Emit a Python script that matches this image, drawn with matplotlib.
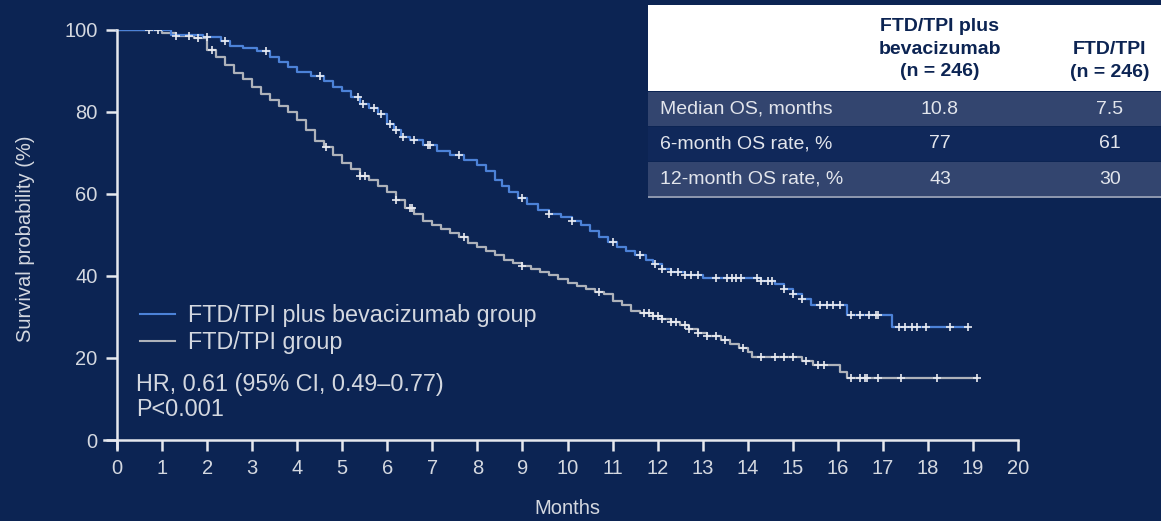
import matplotlib

matplotlib.use("Agg")
import matplotlib.pyplot as plt
import numpy as np
from matplotlib.lines import Line2D
from matplotlib.patches import Rectangle

plt.rcParams["font.family"] = ["Liberation Sans", "DejaVu Sans"]

# Kaplan-Meier step knots (months, survival %)
bev_time = [0.0, 1.2, 1.9, 2.3, 2.5, 2.8, 3.1, 3.4, 3.6, 3.8, 4.0, 4.3, 4.6, 4.8, 5.0, 5.2, 5.4,
            5.6, 5.8, 6.0, 6.15, 6.3, 6.5, 6.8, 7.1, 7.4, 7.7, 8.0, 8.2, 8.4, 8.55, 8.7, 8.9, 9.1,
            9.35, 9.6, 9.85, 10.1, 10.3, 10.5, 10.7, 10.9, 11.1, 11.3, 11.5, 11.75, 11.9, 12.1,
            12.3, 12.6, 13.0, 14.3, 14.6, 14.8, 15.0, 15.2, 15.4, 16.2, 17.2, 18.9]
bev_surv = [100, 98.8, 98.2, 97.2, 96, 95.5, 94.8, 93.5, 92.3, 91, 89.8, 88.8, 87.5, 86, 85, 83.6,
            82, 81, 79.5, 77, 75.5, 74, 73.2, 72, 70.5, 69.5, 68.2, 67, 65.5, 63.5, 62, 60.5, 59,
            57.5, 56.2, 55.2, 54.4, 53.5, 52.5, 51, 49.5, 48.2, 47, 46, 45, 44, 43, 41.8, 41, 40.3,
            39.5, 38.8, 38, 36.8, 35.5, 34.3, 33, 30.5, 27.6, 27.6]
bev_censor = [0.7, 0.9, 2.0, 2.4, 3.3, 4.5, 5.35, 5.45, 5.7, 5.85, 6.05, 6.2, 6.35, 6.6, 6.9, 6.95,
              7.6, 9.0, 9.6, 10.1, 11.0, 11.6, 11.95, 12.1, 12.3, 12.45, 12.6, 12.75, 12.9, 13.3,
              13.55, 13.65, 13.75, 13.85, 14.2, 14.3, 14.45, 14.55, 14.8, 15.0, 15.2, 15.6, 15.75,
              15.9, 16.05, 16.3, 16.5, 16.7, 16.85, 16.9, 17.35, 17.5, 17.65, 17.75, 17.95, 18.5, 18.9]

ftd_time = [0.0, 1.0, 1.3, 1.7, 2.0, 2.2, 2.4, 2.6, 2.8, 3.0, 3.2, 3.4, 3.6, 3.8, 4.0, 4.2, 4.4,
            4.6, 4.8, 5.0, 5.2, 5.4, 5.6, 5.8, 6.0, 6.2, 6.4, 6.6, 6.8, 7.0, 7.2, 7.4, 7.6, 7.8, 8.0,
            8.2, 8.4, 8.6, 8.8, 9.0, 9.2, 9.4, 9.6, 9.8, 10.0, 10.2, 10.4, 10.6, 10.8, 11.0, 11.2,
            11.4, 11.6, 11.9, 12.1, 12.3, 12.5, 12.7, 12.9, 13.1, 13.4, 13.6, 13.8, 14.0, 14.1,
            15.2, 15.45, 16.05, 16.2, 19.1]
ftd_surv = [100, 99.2, 98.5, 98, 95, 93.5, 91.5, 89.5, 88, 86, 84.5, 83, 81.5, 80, 78, 75.5, 73,
            71.5, 69.5, 67.5, 66, 64.5, 63.4, 62, 60.5, 58.5, 56.5, 55, 53.5, 52.5, 51.5, 50.5,
            49.5, 48, 47, 46, 45, 44, 43.2, 42.5, 41.8, 41, 40.2, 39.2, 38.3, 37.5, 36.8, 36, 35.5,
            34, 33, 31.5, 31, 30.3, 29.5, 28.7, 28, 27, 26.2, 25.3, 24.5, 23.5, 22.5, 21.5, 20.3,
            19.2, 18.3, 16.6, 15.1, 15.1]
ftd_censor = [1.3, 1.6, 1.8, 2.1, 4.65, 5.4, 5.5, 6.2, 6.5, 6.55, 7.7, 9.0, 10.7, 11.7, 11.8, 11.9,
              12.0, 12.1, 12.3, 12.4, 12.6, 12.7, 12.9, 13.1, 13.3, 13.5, 13.9, 14.3, 14.6, 14.8,
              15.0, 15.3, 15.55, 15.7, 16.3, 16.5, 16.6, 16.65, 16.9, 17.4, 18.2, 19.1]

x_ticks = list(range(0, 21))
y_ticks = [0, 20, 40, 60, 80, 100]

table_cols = ["FTD/TPI plus\nbevacizumab\n(n = 246)", "FTD/TPI\n(n = 246)"]
table_rows = ["Median OS, months", "6-month OS rate, %", "12-month OS rate, %"]
table_vals = [["10.8", "7.5"], ["77", "61"], ["43", "30"]]

BG = "#0c2453"
BLUE = "#4c82d8"
GREY = "#aeb2ba"
TXT = "#d4d8e0"
W, H = 1161, 521


def fx(px):
    return px / W


def fy(py):
    return 1 - py / H


def surv_at(times, surv, t):
    idx = np.searchsorted(np.asarray(times), np.asarray(t), side="right") - 1
    return np.asarray(surv)[idx]


fig = plt.figure(figsize=(11.61, 5.21), dpi=100, facecolor=BG)
ax = fig.add_axes([fx(103.5), fy(448.2), fx(1018 - 103.5), (448.2 - 30) / H])
ax.set_facecolor(BG)

ax.step(ftd_time, ftd_surv, where="post", color=GREY, lw=1.6)
ax.step(bev_time, bev_surv, where="post", color=BLUE, lw=1.6)
ax.plot(ftd_censor, surv_at(ftd_time, ftd_surv, ftd_censor), ls="none", marker="+",
        ms=6, mew=1.2, color="#e8eaf0")
ax.plot(bev_censor, surv_at(bev_time, bev_surv, bev_censor), ls="none", marker="+",
        ms=6, mew=1.2, color="#e8eaf0")

ax.set_xlim(-0.3, 20)
ax.set_ylim(-2, 100)
for side in ["top", "right"]:
    ax.spines[side].set_visible(False)
for side in ["left", "bottom"]:
    ax.spines[side].set_position(("data", 0))
    ax.spines[side].set_color("#e6e8ee")
    ax.spines[side].set_linewidth(1.8)
ax.spines["bottom"].set_bounds(-0.3, 20)
ax.set_xticks(x_ticks)
ax.set_yticks(y_ticks)
ax.tick_params(colors="#e6e8ee", labelcolor=TXT, labelsize=14.5, length=8, width=1.8, pad=6)
ax.set_ylabel("Survival probability (%)", color=TXT, fontsize=14.5)
ax.yaxis.set_label_coords(-0.075, 0.5)
fig.text(fx(567), fy(509), "Months", color=TXT, fontsize=14.5, ha="center", va="center")

handles = [Line2D([], [], color=BLUE, lw=1.5), Line2D([], [], color=GREY, lw=1.5)]
leg = ax.legend(handles, ["FTD/TPI plus bevacizumab group", "FTD/TPI group"],
                loc="center left", bbox_to_anchor=(0.04, 0.285), frameon=False,
                fontsize=16.8, labelcolor=TXT, handlelength=1.5, handletextpad=0.55,
                labelspacing=0.2, borderaxespad=0, borderpad=0)
fig.text(fx(136), fy(385), "HR, 0.61 (95% CI, 0.49\u20130.77)", color=TXT, fontsize=16.8,
         va="center")
fig.text(fx(136), fy(410), "P<0.001", color=TXT, fontsize=16.8, va="center")

# table in the top right corner
fig.patches.append(Rectangle((fx(648), fy(91)), fx(W - 648), (91 - 5) / H,
                             transform=fig.transFigure, facecolor="white", edgecolor="none"))
row_top = [92, 127, 162]
row_h = 34
row_fill = ["#33456f", "#10285a", "#33456f"]
for top, fill in zip(row_top, row_fill):
    fig.patches.append(Rectangle((fx(648), fy(top + row_h)), fx(W - 648), row_h / H,
                                 transform=fig.transFigure, facecolor=fill, edgecolor="none"))
fig.patches.append(Rectangle((fx(648), fy(198)), fx(W - 648), 2 / H,
                             transform=fig.transFigure, facecolor="#8c96ad", edgecolor="none"))
col_x = [940, 1110]
fig.text(fx(col_x[0]), fy(49), table_cols[0], ha="center", va="center", color=BG,
         fontsize=14, fontweight="bold", linespacing=1.4)
fig.text(fx(col_x[1]), fy(61), table_cols[1], ha="center", va="center", color=BG,
         fontsize=14, fontweight="bold", linespacing=1.4)
for top, label, vals in zip(row_top, table_rows, table_vals):
    yc = fy(top + row_h / 2)
    fig.text(fx(660), yc, label, ha="left", va="center", color="#e2e5ec", fontsize=14)
    for cx, v in zip(col_x, vals):
        fig.text(fx(cx), yc, v, ha="center", va="center", color="#e2e5ec", fontsize=14)

fig.savefig("out.png", dpi=100, facecolor=BG)
